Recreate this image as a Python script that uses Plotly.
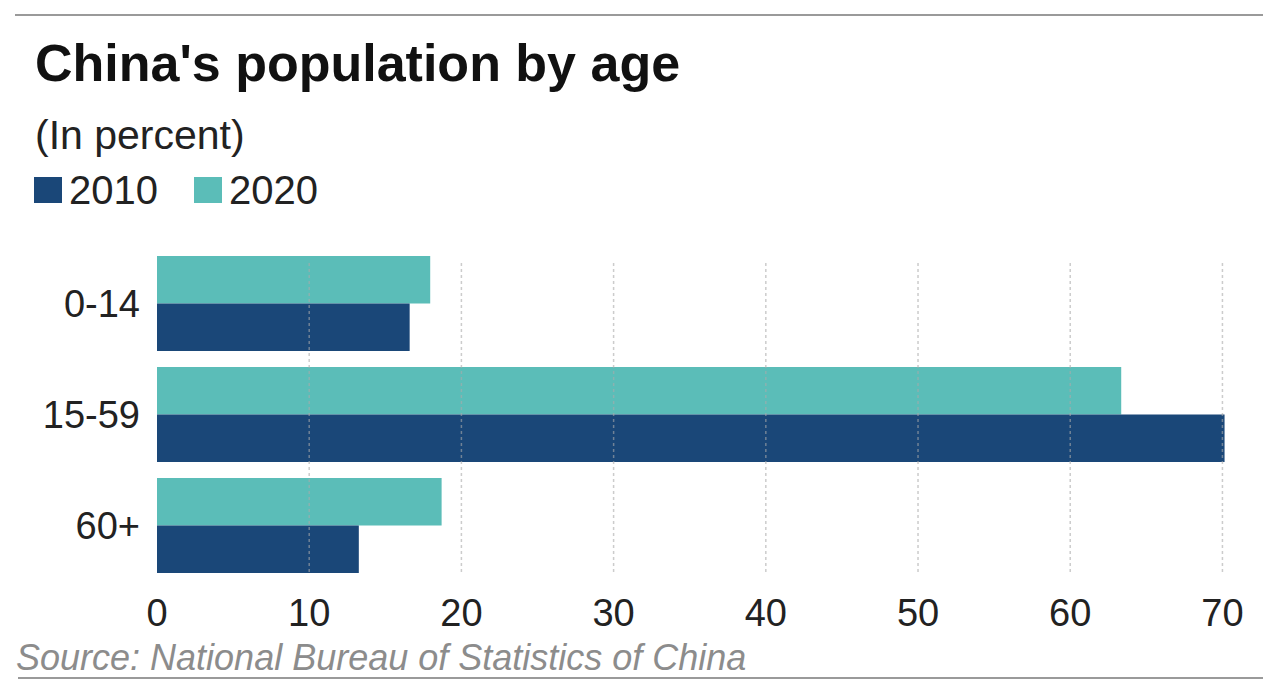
import plotly.graph_objects as go

categories = ["0-14", "15-59", "60+"]
series_names = ["2010", "2020"]
values_2010 = [16.6, 70.14, 13.26]
values_2020 = [17.95, 63.35, 18.7]
x_ticks = [0, 10, 20, 30, 40, 50, 60, 70]

title_text = "China's population by age"
subtitle_text = "(In percent)"
source_text = "Source: National Bureau of Statistics of China"

C2010 = "#1A4778"
C2020 = "#5BBDB8"
FONT = "Liberation Sans, Arial, sans-serif"

W, H = 1280, 694
ML, MR, MT, MB = 157, 53, 248, 113
PW = W - ML - MR
PH = H - MT - MB

fig = go.Figure()
# trace order: 2020 first so that it sits on top within each group (reversed y axis)
fig.add_trace(go.Bar(y=categories, x=values_2020, name=series_names[1], orientation="h",
                     marker=dict(color=C2020, line=dict(width=0)), showlegend=False))
fig.add_trace(go.Bar(y=categories, x=values_2010, name=series_names[0], orientation="h",
                     marker=dict(color=C2010, line=dict(width=0)), showlegend=False))


def px_x(p):
    return (p - ML) / PW


def px_y(p):
    return (H - MB - p) / PH


shapes = []
# dotted gridlines drawn above bars
for t in x_ticks[1:]:
    shapes.append(dict(type="line", xref="x", yref="y domain", x0=t, x1=t, y0=0.027, y1=0.958,
                       line=dict(color="rgba(170,170,170,0.6)", width=1.5, dash="dot"), layer="above"))
# top and bottom rules
shapes.append(dict(type="line", xref="paper", yref="paper", x0=px_x(15), x1=px_x(1263),
                   y0=px_y(15), y1=px_y(15), line=dict(color="#9a9a9a", width=2)))
shapes.append(dict(type="line", xref="paper", yref="paper", x0=px_x(18), x1=px_x(1263),
                   y0=px_y(678), y1=px_y(678), line=dict(color="#9a9a9a", width=2)))
# legend squares
shapes.append(dict(type="rect", xref="paper", yref="paper", x0=px_x(34), x1=px_x(62),
                   y0=px_y(203), y1=px_y(177), fillcolor=C2010, line=dict(width=0)))
shapes.append(dict(type="rect", xref="paper", yref="paper", x0=px_x(194), x1=px_x(222),
                   y0=px_y(203), y1=px_y(177), fillcolor=C2020, line=dict(width=0)))

annotations = [
    dict(text="<b>" + title_text + "</b>", x=px_x(33), y=px_y(63), xref="paper", yref="paper",
         xanchor="left", yanchor="middle", showarrow=False, font=dict(family=FONT, size=52, color="#111111")),
    dict(text=subtitle_text, x=px_x(33), y=px_y(135), xref="paper", yref="paper",
         xanchor="left", yanchor="middle", showarrow=False, font=dict(family=FONT, size=41, color="#222222")),
    dict(text=series_names[0], x=px_x(67), y=px_y(190), xref="paper", yref="paper",
         xanchor="left", yanchor="middle", showarrow=False, font=dict(family=FONT, size=40, color="#222222")),
    dict(text=series_names[1], x=px_x(227), y=px_y(190), xref="paper", yref="paper",
         xanchor="left", yanchor="middle", showarrow=False, font=dict(family=FONT, size=40, color="#222222")),
    dict(text="<i>" + source_text + "</i>", x=px_x(14), y=px_y(657), xref="paper", yref="paper",
         xanchor="left", yanchor="middle", showarrow=False, font=dict(family=FONT, size=36, color="#8c8c8c")),
]

fig.update_layout(
    width=W, height=H,
    margin=dict(l=ML, r=MR, t=MT, b=MB, pad=0),
    paper_bgcolor="white", plot_bgcolor="white",
    barmode="group", bargap=0.144, bargroupgap=0,
    shapes=shapes, annotations=annotations,
    xaxis=dict(range=[0, 70.3], tickvals=x_ticks, ticktext=[str(t) for t in x_ticks],
               showgrid=False, zeroline=False, showline=False, ticks="",
               ticklabelstandoff=6,
               tickfont=dict(family=FONT, size=38, color="#222222"), fixedrange=True),
    yaxis=dict(autorange="reversed", showgrid=False, zeroline=False, showline=False, ticks="",
               ticklabelstandoff=16,
               tickfont=dict(family=FONT, size=38, color="#222222"), fixedrange=True),
    showlegend=False,
)

fig.write_html("out.html", config={"displayModeBar": False})
